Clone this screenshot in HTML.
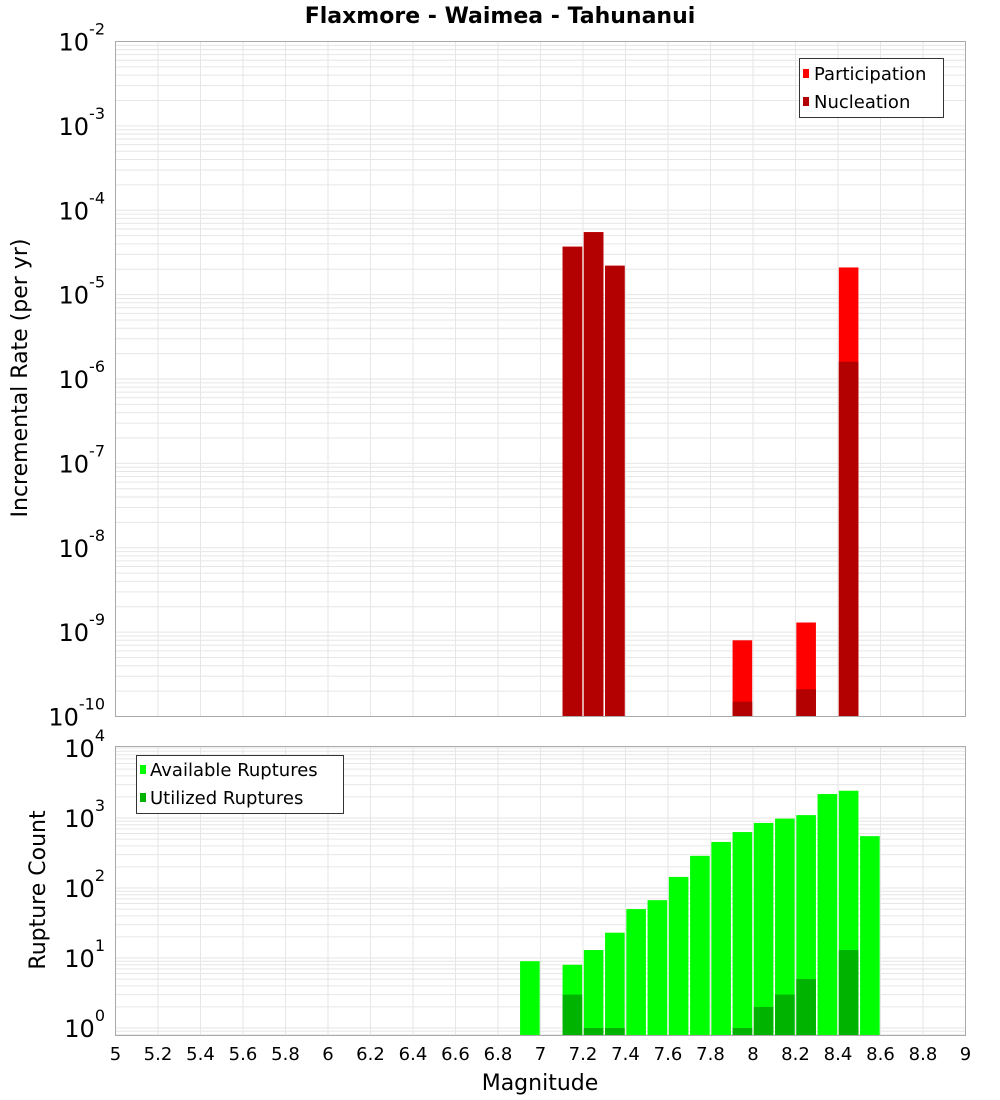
<!DOCTYPE html>
<html><head><meta charset="utf-8"><style>
body{margin:0;background:#fff}
svg{display:block;font-family:"DejaVu Sans","Liberation Sans",sans-serif}
</style></head><body>
<svg id="chart" width="1000" height="1100" viewBox="0 0 1000 1100">
<text x="500" y="23" text-anchor="middle" font-size="22" font-weight="bold">Flaxmore - Waimea - Tahunanui</text>
<g id="gTop"></g>
<g id="gBot"></g>
<text transform="translate(27,378) rotate(-90)" text-anchor="middle" font-size="22">Incremental Rate (per yr)</text>
<text transform="translate(45,890) rotate(-90)" text-anchor="middle" font-size="22">Rupture Count</text>
<text x="540" y="1090" text-anchor="middle" font-size="22">Magnitude</text>
<g>
<rect x="799.5" y="58.5" width="144" height="59" fill="#fff" stroke="#333"/>
<rect x="803" y="69" width="6" height="9" fill="#ff0000"/>
<text x="814" y="80" font-size="18">Participation</text>
<rect x="803" y="97" width="6" height="9" fill="#b30000"/>
<text x="814" y="108" font-size="18">Nucleation</text>
</g>
<g>
<rect x="136.5" y="755.5" width="207" height="58" fill="#fff" stroke="#333"/>
<rect x="140" y="765" width="6" height="9" fill="#00ff00"/>
<text x="150" y="776" font-size="18">Available Ruptures</text>
<rect x="140" y="793" width="6" height="9" fill="#00b300"/>
<text x="150" y="804" font-size="18">Utilized Ruptures</text>
</g>
</svg>
<script>
const mags=[7.15,7.25,7.35,7.95,8.25,8.45];
const participation=[3.7e-5,5.5e-5,2.2e-5,8e-10,1.3e-9,2.1e-5];
const nucleation=[3.7e-5,5.5e-5,2.2e-5,1.5e-10,2.1e-10,1.6e-6];
const countMags=[6.95,7.15,7.25,7.35,7.45,7.55,7.65,7.75,7.85,7.95,8.05,8.15,8.25,8.35,8.45,8.55];
const available=[9,8,13,23,50,67,144,288,455,630,850,980,1100,2200,2450,550];
const utilized=[0,3,1,1,0,0,0,0,0,1,2,3,5,0,13,0];
const xTicks=["5","5.2","5.4","5.6","5.8","6","6.2","6.4","6.6","6.8","7","7.2","7.4","7.6","7.8","8","8.2","8.4","8.6","8.8","9"];
const topExps=[-2,-3,-4,-5,-6,-7,-8,-9,-10];
const botExps=[4,3,2,1,0];

const NS="http://www.w3.org/2000/svg";
const X0=115.5,X1=965.5;
const xs=m=>X0+(m-5)*(X1-X0)/4;
const TT=41.5,TB=716.5,BT=746.5,BB=1035.5;
const yTop=v=>TT+(-2-Math.log10(v))*(TB-TT)/8;
const yBot=v=>1028-70*Math.log10(v);
function mk(p,t,a){const e=document.createElementNS(NS,t);for(const k in a)e.setAttribute(k,a[k]);p.appendChild(e);return e;}
const gTop=document.getElementById('gTop'),gBot=document.getElementById('gBot');

function grid(g,T,B,yf,lo,hi){
  for(let e=lo;e<hi;e++)for(let k=1;k<10;k++){const y=yf(k*Math.pow(10,e));if(y<T-0.5||y>B+0.5)continue;
    const l=mk(g,'line',{x1:X0,x2:X1,y1:y,y2:y,stroke:'#e6e6e6','stroke-width':1});
    
    }
  xTicks.forEach(t=>{const xx=xs(parseFloat(t));const l=mk(g,'line',{x1:xx,x2:xx,y1:T,y2:B,stroke:'#e6e6e6'});
    
    });
}
grid(gTop,TT,TB,yTop,-10,-1);
grid(gBot,BT,BB,yBot,-1,5);

function bar(g,m,v,yf,B,fill,name){
  const y=yf(v);const r=mk(g,'rect',{x:xs(m)-9.8,y:y,width:19.6,height:B-y,fill:fill});
  
  
}
mags.forEach((m,i)=>{bar(gTop,m,participation[i],yTop,TB,'#ff0000','participation-bar');});
mags.forEach((m,i)=>{bar(gTop,m,nucleation[i],yTop,TB,'#b30000','nucleation-bar');});
countMags.forEach((m,i)=>{if(available[i]>0)bar(gBot,m,available[i],yBot,BB,'#00ff00','available-bar');});
countMags.forEach((m,i)=>{if(utilized[i]>0)bar(gBot,m,utilized[i],yBot,BB,'#00b300','utilized-bar');});

mk(gTop,'rect',{x:X0,y:TT,width:X1-X0,height:TB-TT,fill:'none',stroke:'#aaa'});
mk(gBot,'rect',{x:X0,y:BT,width:X1-X0,height:BB-BT,fill:'none',stroke:'#aaa'});

function ylab(g,e,y,name){
  const t=mk(g,'text',{x:105,y:y,'text-anchor':'end','font-size':24});
  
  
  const a=mk(t,'tspan',{});a.textContent='10';
  const b=mk(t,'tspan',{dy:-16,'font-size':16});b.textContent=String(e);
}
topExps.forEach(e=>ylab(gTop,e,yTop(Math.pow(10,e))+9,'y-tick-label'));
botExps.forEach(e=>ylab(gBot,e,yBot(Math.pow(10,e))+9,'y-tick-label'));
xTicks.forEach(t=>{const el=mk(gBot,'text',{x:xs(parseFloat(t)),y:1060,'text-anchor':'middle','font-size':18});el.textContent=t;
  
  });
</script>
</body></html>
